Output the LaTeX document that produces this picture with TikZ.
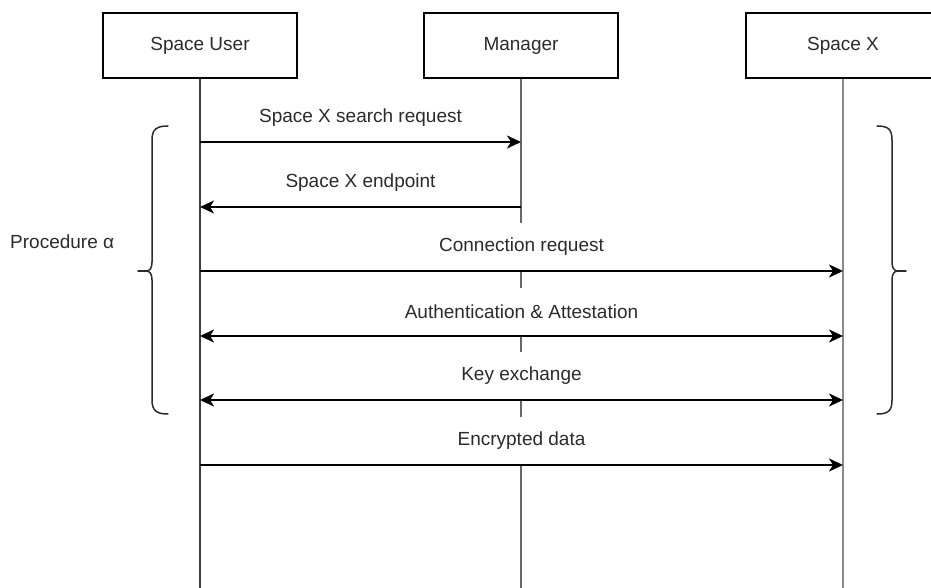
\documentclass[tikz,border=0pt]{standalone}
\usepackage{fontspec}
\setmainfont{Liberation Sans}
\usetikzlibrary{arrows.meta,calc}
\definecolor{txt}{HTML}{2B2B2B}
\definecolor{lifeA}{HTML}{3C3C3C}
\definecolor{lifeB}{HTML}{666666}
\definecolor{lifeC}{HTML}{8A8A8A}
\begin{document}
\begin{tikzpicture}[x=1pt,y=-1pt,
  actor/.style={draw=black, line width=2pt, fill=white,
    minimum width=194pt, minimum height=65pt, inner sep=0pt,
    font=\fontsize{19}{23}\selectfont, text=txt},
  lifeline/.style={line width=2.4pt},
  msg/.style={line width=2pt, draw=black},
  tipR/.style={-{Stealth[length=14pt,width=13pt,inset=4pt]}},
  tipB/.style={{Stealth[length=14pt,width=13pt,inset=4pt]}-{Stealth[length=14pt,width=13pt,inset=4pt]}},
  lbl/.style={font=\fontsize{19}{23}\selectfont, text=txt, inner sep=0pt},
  msglbl/.style={lbl, fill=white, minimum height=48pt, inner xsep=4pt, anchor=south},
  brace/.style={line width=1.5pt, draw=txt, line cap=round}
]
\clip (0,0) rectangle (931,588);
\fill[white] (0,0) rectangle (931,588);

% participants
\node[actor] (user) at (200,45.5) {Space User};
\node[actor] (mgr)  at (521,45.5) {Manager};
\node[actor] (spx)  at (843,45.5) {Space X};

% lifeline ends
\coordinate (userEnd) at (200,588);
\coordinate (mgrEnd)  at (521,588);
\coordinate (spxEnd)  at (843,588);

\draw[lifeline, lifeA] (user.south) -- (userEnd);
\draw[lifeline, lifeB] (mgr.south) -- (mgrEnd);
\draw[lifeline, lifeC] (spx.south) -- (spxEnd);

% message anchors on the lifelines
\foreach \n/\y in {1/142, 2/207, 3/271, 4/336, 5/400, 6/465} {
  \coordinate (u\n) at (200,\y);
  \coordinate (m\n) at (521,\y);
  \coordinate (s\n) at (843,\y);
}

% message labels (white boxes hide the lifeline behind the text)
\node[msglbl] (l1) at ($(u1)!0.5!(m1)$) {Space X search request};
\node[msglbl] (l2) at ($(u2)!0.5!(m2)$) {Space X endpoint};
\node[msglbl] (l3) at ($(u3)!0.5!(s3)$) {Connection request};
\node[msglbl] (l4) at ($(u4)!0.5!(s4)$) {Authentication \& Attestation};
\node[msglbl] (l5) at ($(u5)!0.5!(s5)$) {Key exchange};
\node[msglbl] (l6) at ($(u6)!0.5!(s6)$) {Encrypted data};

% messages
\draw[msg, tipR] (u1) -- (m1);
\draw[msg, tipR] (m2) -- (u2);
\draw[msg, tipR] (u3) -- (s3);
\draw[msg, tipB] (u4) -- (s4);
\draw[msg, tipB] (u5) -- (s5);
\draw[msg, tipR] (u6) -- (s6);

% left brace and its label
\draw[brace] (168,126) .. controls (157,126) and (152,129) .. (152,140) -- (152,262)
  .. controls (152,268) and (150,271) .. (146,271)
  .. controls (150,271) and (152,274) .. (152,280) -- (152,400)
  .. controls (152,411) and (157,414) .. (168,414);
\draw[brace] (146,271) -- (138,271);
\node[lbl, anchor=west] (proc) at (10,242) {Procedure α};

% right brace
\draw[brace] (877,126) .. controls (888,126) and (892,129) .. (892,140) -- (892,262)
  .. controls (892,268) and (894,271) .. (898,271)
  .. controls (894,271) and (892,274) .. (892,280) -- (892,400)
  .. controls (892,411) and (888,414) .. (877,414);
\draw[brace] (898,271) -- (906,271);
\end{tikzpicture}
\end{document}
